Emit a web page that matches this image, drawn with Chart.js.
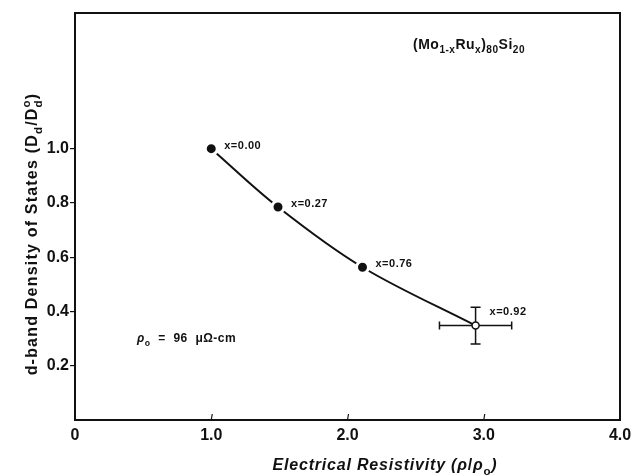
<!DOCTYPE html>
<html>
<head>
<meta charset="utf-8">
<script src="https://cdn.jsdelivr.net/npm/chart.js@4/dist/chart.umd.min.js"></script>
<style>
  body { margin: 0; background: #fff; }
  #c { display: block; }
</style>
</head>
<body>
<canvas id="c" width="633" height="476"></canvas>
<script>
// data
const resistivity = [1.00, 1.49, 2.11, 2.94];
const densityStates = [1.00, 0.785, 0.563, 0.348];
const compositions = ['x=0.00', 'x=0.27', 'x=0.76', 'x=0.92'];
const xErr = [0, 0, 0, 0.265];
const yErr = [0, 0, 0, 0.068];
const xTicks = [0, 1, 2, 3, 4];
const xTickLabels = ['0', '1.0', '2.0', '3.0', '4.0'];
const yTicks = [0.2, 0.4, 0.6, 0.8, 1.0];
const yTickLabels = ['0.2', '0.4', '0.6', '0.8', '1.0'];

const FONT = '"Liberation Sans", Arial, sans-serif';

// text built from segments: [text, kind, opts]
function segFont(ctx, s, size, weight) {
  const sz = s[1] ? size * 0.72 : size;
  ctx.font = (s[2] && s[2].italic ? 'italic ' : '') + weight + ' ' + sz + 'px ' + FONT;
}

function richWidth(ctx, segs, size, weight) {
  let w = 0, last = 0;
  segs.forEach(s => {
    segFont(ctx, s, size, weight);
    const sw = ctx.measureText(s[0]).width;
    if (s[2] && s[2].back) { w = w - last + Math.max(last, sw); last = Math.max(last, sw); }
    else { w += sw; last = sw; }
  });
  return w;
}

function drawRich(ctx, segs, x, y, size, weight) {
  let cx = x, lastStart = x, lastW = 0;
  ctx.textBaseline = 'alphabetic';
  ctx.textAlign = 'left';
  segs.forEach(s => {
    const kind = s[1];
    segFont(ctx, s, size, weight);
    let dy = 0;
    if (kind === 'sub') dy = size * 0.3;
    if (kind === 'sup') dy = -size * 0.45;
    const back = s[2] && s[2].back;
    const sx = back ? lastStart : cx;
    ctx.fillText(s[0], sx, y + dy);
    const sw = ctx.measureText(s[0]).width;
    if (back) { cx = lastStart + Math.max(lastW, sw); }
    else { lastStart = sx; lastW = sw; cx = sx + sw; }
  });
}

const decorPlugin = {
  id: 'decor',
  beforeDatasetsDraw(chart) {
    const ctx = chart.ctx;
    const xs = chart.scales.x, ys = chart.scales.y;
    ctx.save();
    ctx.strokeStyle = '#111';
    ctx.lineWidth = 1.5;
    resistivity.forEach((v, i) => {
      const px = xs.getPixelForValue(v), py = ys.getPixelForValue(densityStates[i]);
      if (xErr[i]) {
        const l = xs.getPixelForValue(v - xErr[i]), r = xs.getPixelForValue(v + xErr[i]);
        ctx.beginPath();
        ctx.moveTo(l, py); ctx.lineTo(r, py);
        ctx.moveTo(l, py - 4); ctx.lineTo(l, py + 4);
        ctx.moveTo(r, py - 4); ctx.lineTo(r, py + 4);
        ctx.stroke();
      }
      if (yErr[i]) {
        const t = ys.getPixelForValue(densityStates[i] + yErr[i]), b = ys.getPixelForValue(densityStates[i] - yErr[i]);
        ctx.beginPath();
        ctx.moveTo(px, t); ctx.lineTo(px, b);
        ctx.moveTo(px - 5, t); ctx.lineTo(px + 5, t);
        ctx.moveTo(px - 5, b); ctx.lineTo(px + 5, b);
        ctx.stroke();
      }
    });
    ctx.restore();
  },
  afterDraw(chart) {
    const ctx = chart.ctx;
    const a = chart.chartArea;
    const xs = chart.scales.x, ys = chart.scales.y;
    ctx.save();
    // frame
    ctx.strokeStyle = '#111';
    ctx.lineWidth = 2;
    ctx.strokeRect(a.left, a.top, a.right - a.left, a.bottom - a.top);
    // small inner ticks on the x axis
    ctx.lineWidth = 1.2;
    xTicks.slice(1, -1).forEach(t => {
      const px = xs.getPixelForValue(t);
      ctx.beginPath();
      ctx.moveTo(px, a.bottom); ctx.lineTo(px + 1, a.bottom - 6);
      ctx.stroke();
    });
    ctx.fillStyle = '#111';
    // point labels
    ctx.font = 'bold 11px ' + FONT;
    ctx.letterSpacing = '0.5px';
    ctx.textBaseline = 'middle';
    ctx.textAlign = 'left';
    compositions.forEach((lab, i) => {
      const px = xs.getPixelForValue(resistivity[i]), py = ys.getPixelForValue(densityStates[i]);
      const off = i === 3 ? [14, -14] : [13, -3];
      ctx.fillText(lab, px + off[0], py + off[1]);
    });
    // formula
    ctx.letterSpacing = '0.5px';
    drawRich(ctx, [['(Mo'], ['1-x', 'sub'], ['Ru'], ['x', 'sub'], [')'], ['80', 'sub'], ['Si'], ['20', 'sub']], 413, 49, 14, 'bold');
    // rho_o
    drawRich(ctx, [['\u03c1', '', { italic: true }], ['o', 'sub'], ['  =  96  \u03bc\u03a9-cm']], 137, 342, 12, 'bold');
    // x title
    ctx.letterSpacing = '0.8px';
    const xt = [['Electrical Resistivity (', '', { italic: true }], ['\u03c1', '', { italic: true }], ['/'], ['\u03c1', '', { italic: true }], ['o', 'sub'], [')', '', { italic: true }]];
    const xw = richWidth(ctx, xt, 16, 'bold');
    drawRich(ctx, xt, 385 - xw / 2, 470, 16, 'bold');
    // y title
    ctx.letterSpacing = '1.2px';
    const yt = [['d-band Density of States (D'], ['d', 'sub'], ['/D'], ['d', 'sub'], ['o', 'sup', { back: true }], [')']];
    const yw = richWidth(ctx, yt, 16, 'bold');
    ctx.translate(37, 234);
    ctx.rotate(-Math.PI / 2);
    drawRich(ctx, yt, -yw / 2, 0, 16, 'bold');
    ctx.restore();
  }
};

new Chart(document.getElementById('c'), {
  type: 'scatter',
  data: {
    datasets: [{
      data: resistivity.map((v, i) => ({ x: v, y: densityStates[i] })),
      showLine: true,
      tension: 0.35,
      borderColor: '#111',
      borderWidth: 2,
      pointRadius: [6, 6, 6, 3.5],
      pointBackgroundColor: ['#111', '#111', '#111', '#fff'],
      pointBorderColor: ['#fff', '#fff', '#fff', '#111'],
      pointBorderWidth: [3, 3, 3, 1.5]
    }]
  },
  options: {
    responsive: false,
    animation: false,
    devicePixelRatio: 1,
    layout: { padding: { left: 0, top: 13, right: 0, bottom: 0 } },
    plugins: { legend: { display: false }, tooltip: { enabled: false } },
    scales: {
      x: {
        min: 0, max: 4,
        afterBuildTicks: s => { s.ticks = xTicks.map(v => ({ value: v })); },
        afterFit: s => { s.height = 56; s.paddingLeft = 0; s.paddingRight = 13; },
        grid: { display: false },
        border: { display: false },
        ticks: {
          padding: -2,
          maxRotation: 0,
          color: '#111',
          font: { family: FONT, size: 16, weight: 'bold' },
          callback: (v, i) => xTickLabels[i]
        }
      },
      y: {
        min: 0, max: 1.5,
        afterBuildTicks: s => { s.ticks = yTicks.map(v => ({ value: v })); },
        afterFit: s => { s.width = 75; },
        grid: { drawOnChartArea: false, tickLength: 5, color: '#111', lineWidth: 1.2 },
        border: { display: false },
        ticks: {
          padding: 1,
          color: '#111',
          font: { family: FONT, size: 16, weight: 'bold' },
          callback: (v, i) => yTickLabels[i]
        }
      }
    }
  },
  plugins: [decorPlugin]
});
</script>
</body>
</html>
